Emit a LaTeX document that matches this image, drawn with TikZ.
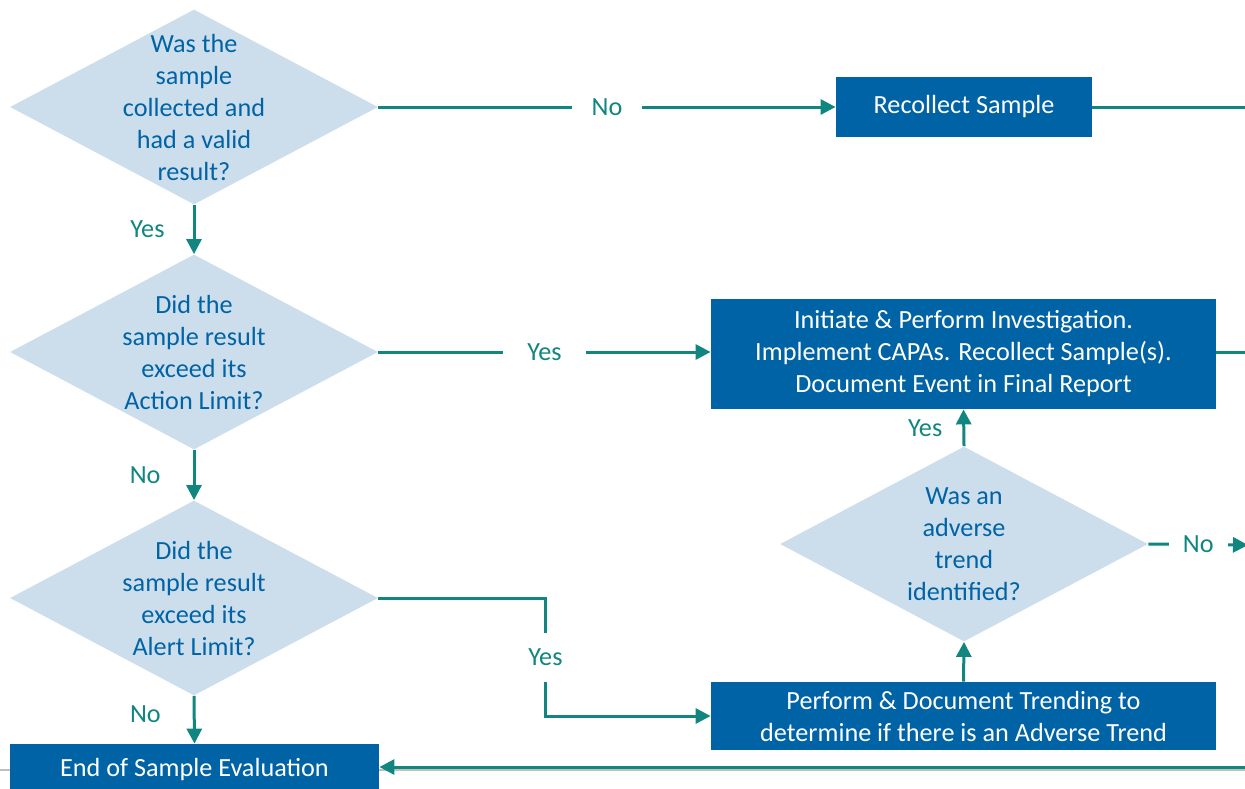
\documentclass[tikz,border=0pt]{standalone}
\usepackage{fontspec}
\setmainfont{Carlito}
\usetikzlibrary{shapes.geometric,arrows.meta}
\definecolor{boxblue}{RGB}{0,99,166}
\definecolor{qfill}{RGB}{204,222,236}
\definecolor{flowteal}{RGB}{17,134,128}
\definecolor{rulegray}{RGB}{192,192,192}

\begin{document}
\begin{tikzpicture}[x=0.5pt,y=-0.5pt,
    question/.style={diamond,fill=qfill,inner sep=0pt,minimum width=184pt,minimum height=97.5pt},
    qtext/.style={align=center,text=boxblue,font=\fontsize{13.1}{16}\selectfont},
    action/.style={rectangle,fill=boxblue,text=white,align=center,inner sep=0pt,font=\fontsize{13.1}{16}\selectfont},
    flow/.style={draw=flowteal,line width=1.5pt,-{Triangle[length=7.5pt,width=7.5pt]}},
    plain/.style={draw=flowteal,line width=1.5pt},
    answer/.style={text=flowteal,inner sep=0pt,font=\fontsize{13.1}{16}\selectfont},
    hgap/.style={answer,fill=white,inner ysep=2pt},
    vgap/.style={answer,fill=white,inner xsep=2pt,inner ysep=8pt}]
            \useasboundingbox (0,0) rectangle (1245,788);
            \clip (0,0) rectangle (1245,788);
            \draw[rulegray,line width=0.8pt] (0,770) -- (1245,770);

            \node[question] (q1) at (194,107) {};
            \node[qtext] (q1text) at (q1) {Was the\\sample\\collected and\\had a valid\\result?};
            \node[question] (q2) at (194,352) {};
            \node[qtext] (q2text) at (q2) {Did the\\sample result\\exceed its\\Action Limit?};
            \node[question] (q3) at (194,598) {};
            \node[qtext] (q3text) at (q3) {Did the\\sample result\\exceed its\\Alert Limit?};
            \node[question] (q4) at (964,544) {};
            \node[qtext] (q4text) at (q4) {Was an\\adverse\\trend\\identified?};

            \node[action,minimum width=128pt,minimum height=30pt] (recollect) at (964,107) {Recollect Sample};
            \node[action,minimum width=252.5pt,minimum height=55pt] (invest) at (963.5,354) {Initiate \& Perform Investigation.\\Implement CAPAs. Recollect Sample(s).\\Document Event in Final Report};
            \node[action,minimum width=252.5pt,minimum height=34pt] (trend) at (963.5,716) {Perform \& Document Trending to\\determine if there is an Adverse Trend};
            \node[action,minimum width=184.5pt,minimum height=25pt] (endeval) at (194.5,769) {End of Sample Evaluation};

            \coordinate (out1) at (1260,107);
            \coordinate (out2) at (1260,352);
            \coordinate (out3) at (1248,545);
            \coordinate (out4) at (1260,767);

            \draw[flow] (q1.east) to node[hgap,inner xsep=10pt] {No} (recollect.west);
            \draw[flow] (q1.south) to node[answer,left=14pt] {Yes} (q2.north);
            \draw[flow] (q2.east) to node[hgap,inner xsep=12pt] {Yes} (q2.east -| invest.west);
            \draw[flow] (q2.south) to node[answer,left=16pt] {No} (q3.north);
            \draw[flow] (q3.east) -- ++(167,0) |- node[vgap,pos=0.25] {Yes} (trend.west);
            \draw[flow] (q3.south) to node[answer,left=16pt,yshift=3pt] {No} (endeval.north);
            \draw[flow] (trend.north) to (q4.south);
            \draw[flow] (q4.north) to node[answer,left=10pt] {Yes} (invest.south);
            \draw[flow] (q4.east) to node[hgap,inner xsep=7pt] {No} (out3);
            \draw[plain] (recollect.east) to (out1);
            \draw[plain] (invest.east |- out2) to (out2);
            \draw[flow] (out4) to (endeval.east |- out4);
        \end{tikzpicture}
\end{document}
